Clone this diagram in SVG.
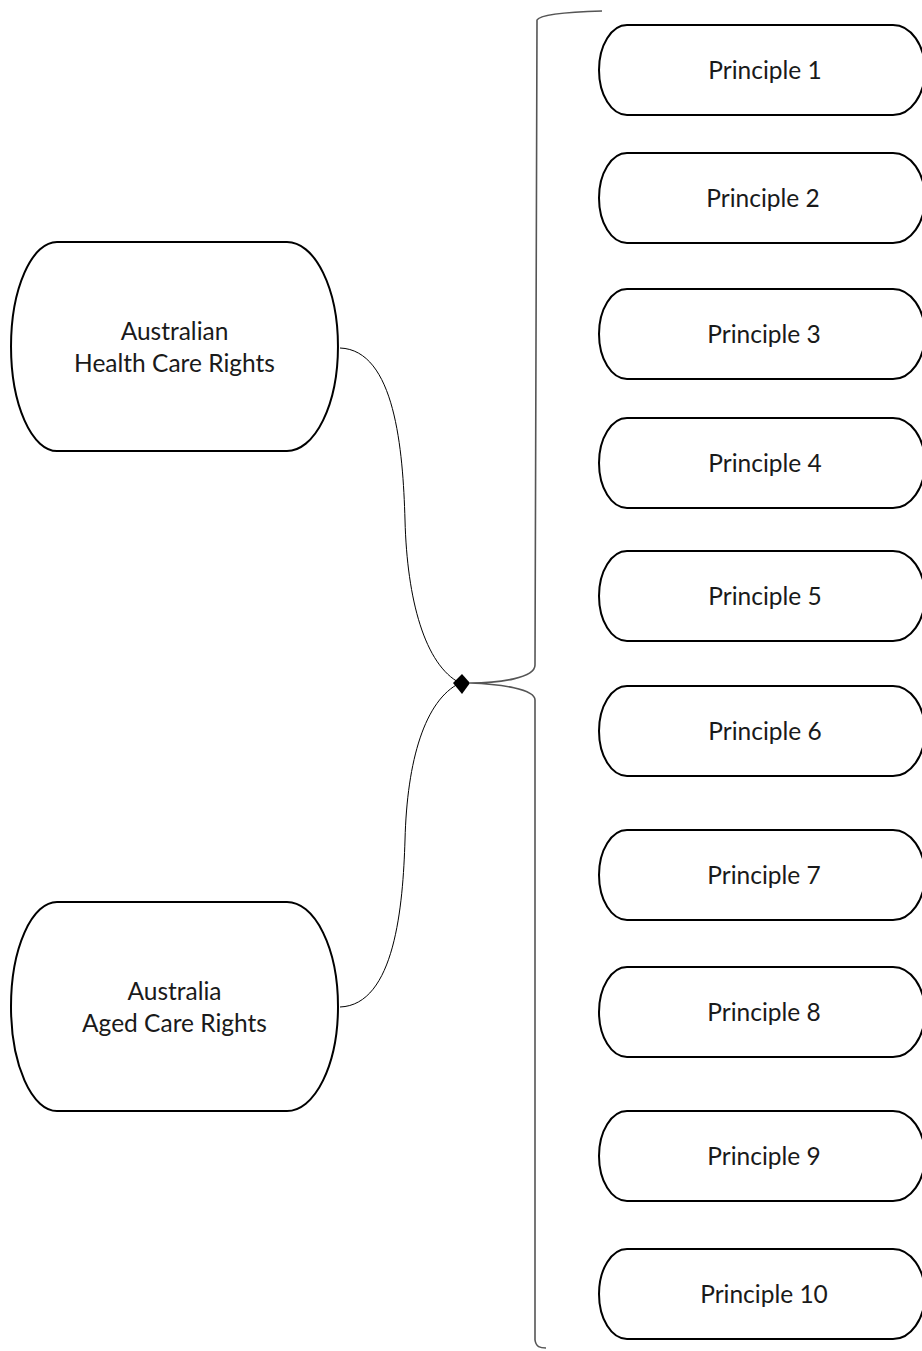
<svg xmlns="http://www.w3.org/2000/svg" width="922" height="1351" viewBox="0 0 922 1351">
<style>
.n{fill:#fff;stroke:#000;stroke-width:2}
.t{font-family:Lato,"Liberation Sans",sans-serif;font-size:24.5px;fill:#1a1a1a;text-anchor:middle}
.c{fill:none;stroke:#000;stroke-width:1}
.b{fill:none;stroke:#555;stroke-width:1.6}
</style>
<defs>
<path id="pr" d="M627,0 L893,0 A32,45 0 0 1 893,90 L627,90 A28,45 0 0 1 627,0 Z"/>
</defs>
<rect width="922" height="1351" fill="#fff"/>
<g id="connectors">
<path class="b" d="M602,11 C570,12 540,14 537,20 L535,665 C535,678 500,683 470,683 C500,684 535,689 535,700 L535,1340 C536,1347 540,1348 546,1348"/>
<path class="c" d="M340,348 C395,350 403,450 405,520 C407,600 425,665 460,683"/>
<path class="c" d="M340,1007 C395,1005 403,905 405,840 C407,760 425,700 460,683"/>
<path d="M453,683 L462,674 L470,683 L462,694 Z" fill="#000"/>
</g>
<g id="health"><path class="n" d="M57,242 L287,242 A51,104.5 0 0 1 287,451 L57,451 A46,104.5 0 0 1 57,242 Z"/><text class="t" x="174.5" y="340">Australian</text><text class="t" x="174.5" y="372">Health Care Rights</text></g>
<g id="aged"><path class="n" d="M57,902 L287,902 A51,104.5 0 0 1 287,1111 L57,1111 A46,104.5 0 0 1 57,902 Z"/><text class="t" x="174.5" y="1000">Australia</text><text class="t" x="174.5" y="1032">Aged Care Rights</text></g>
<g id="p1"><use href="#pr" class="n" y="25"/><text class="t" x="765" y="79">Principle 1</text></g>
<g id="p2"><use href="#pr" class="n" y="153"/><text class="t" x="763" y="207">Principle 2</text></g>
<g id="p3"><use href="#pr" class="n" y="289"/><text class="t" x="764" y="343">Principle 3</text></g>
<g id="p4"><use href="#pr" class="n" y="418"/><text class="t" x="765" y="472">Principle 4</text></g>
<g id="p5"><use href="#pr" class="n" y="551"/><text class="t" x="765" y="605">Principle 5</text></g>
<g id="p6"><use href="#pr" class="n" y="686"/><text class="t" x="765" y="740">Principle 6</text></g>
<g id="p7"><use href="#pr" class="n" y="830"/><text class="t" x="764" y="884">Principle 7</text></g>
<g id="p8"><use href="#pr" class="n" y="967"/><text class="t" x="764" y="1021">Principle 8</text></g>
<g id="p9"><use href="#pr" class="n" y="1111"/><text class="t" x="764" y="1165">Principle 9</text></g>
<g id="p10"><use href="#pr" class="n" y="1249"/><text class="t" x="764" y="1303">Principle 10</text></g>
</svg>
